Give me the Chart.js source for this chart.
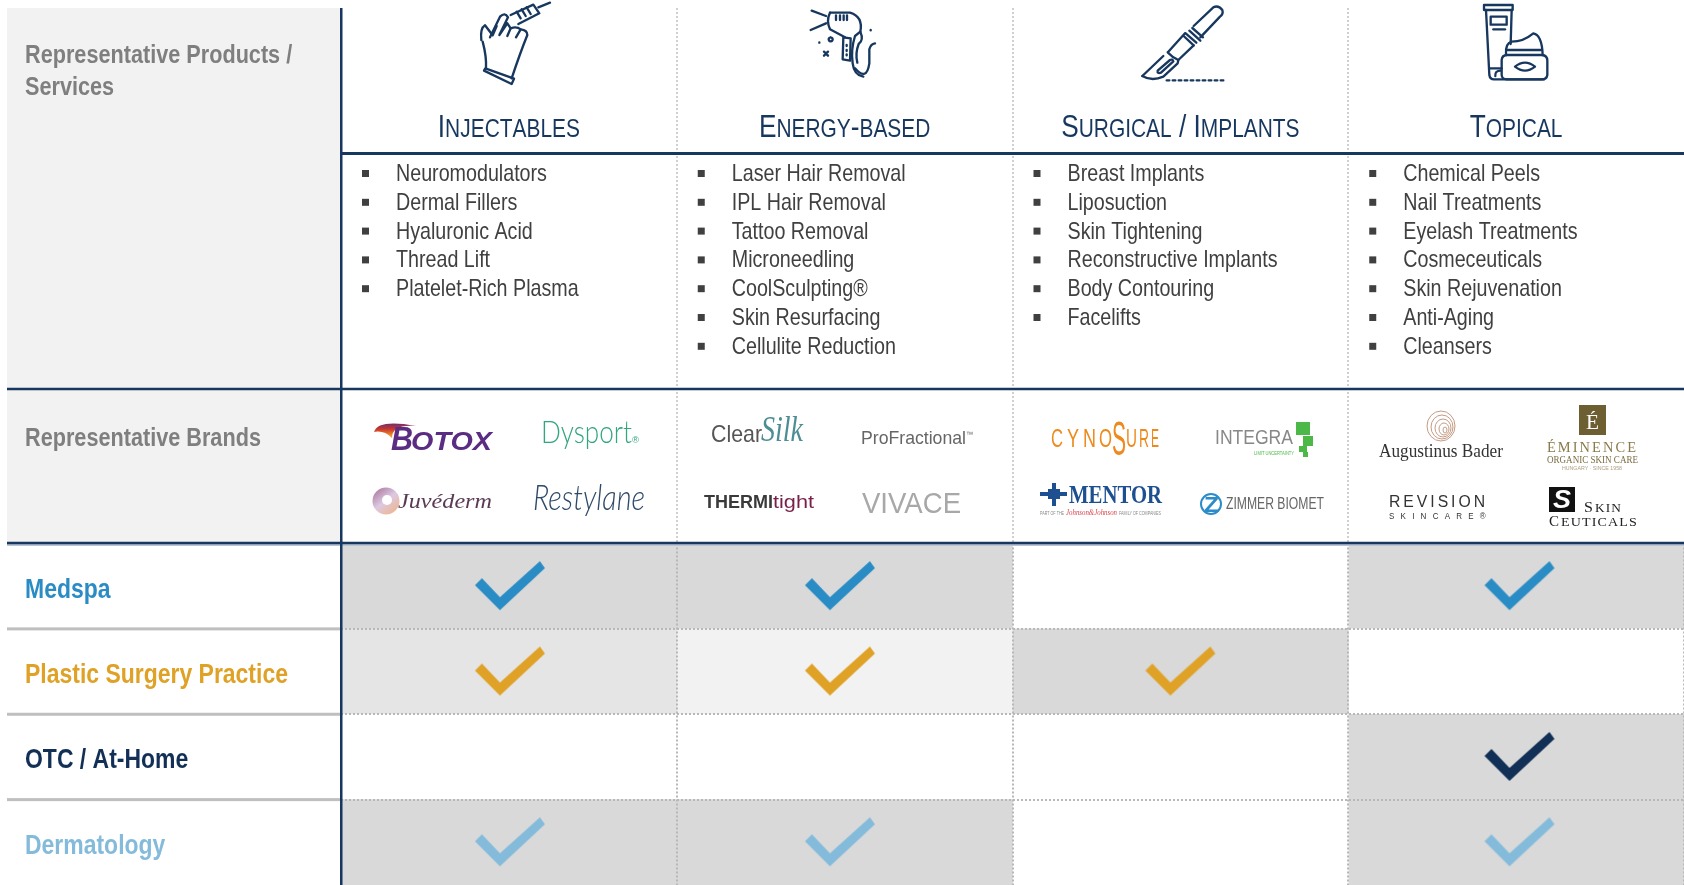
<!DOCTYPE html>
<html>
<head>
<meta charset="utf-8">
<title>Aesthetics market map</title>
<script src="https://cdn.jsdelivr.net/npm/chart.js@4"></script>
<style>
  html, body { margin: 0; padding: 0; background: #fff; }
  canvas { display: block; }
</style>
</head>
<body>
<canvas id="marketChart" width="1684" height="885"></canvas>
<script>
const columns = ['Injectables', 'Energy-based', 'Surgical / Implants', 'Topical'];
const rows = ['Medspa', 'Plastic Surgery Practice', 'OTC / At-Home', 'Dermatology'];

// 1 = check mark in that column
const medspaChecks = [1, 1, 0, 1];
const plasticChecks = [1, 1, 1, 0];
const otcChecks = [0, 0, 0, 1];
const dermChecks = [1, 1, 0, 1];
const rowChecks = [medspaChecks, plasticChecks, otcChecks, dermChecks];

// where the check sits along the column axis (read off the picture, not quite centred)
const checkPositions = [0.503, 1.486, 2.5, 3.51];

const sideHeadings = ['Representative Products /', 'Services', 'Representative Brands'];

const injectables = ['Neuromodulators', 'Dermal Fillers', 'Hyaluronic Acid', 'Thread Lift', 'Platelet-Rich Plasma'];
const energyBased = ['Laser Hair Removal', 'IPL Hair Removal', 'Tattoo Removal', 'Microneedling', 'CoolSculpting®', 'Skin Resurfacing', 'Cellulite Reduction'];
const surgical = ['Breast Implants', 'Liposuction', 'Skin Tightening', 'Reconstructive Implants', 'Body Contouring', 'Facelifts'];
const topical = ['Chemical Peels', 'Nail Treatments', 'Eyelash Treatments', 'Cosmeceuticals', 'Skin Rejuvenation', 'Anti-Aging', 'Cleansers'];
const productLists = [injectables, energyBased, surgical, topical];

const NAVY = '#17375e';
const SANS = "'Liberation Sans', sans-serif";
const SERIF = "'Liberation Serif', serif";

const rowColors = ['#2a8cc4', '#dfa126', '#122f56', '#84bbdb'];
const cellFills = [
    ['#d9d9d9', '#d9d9d9', '#ffffff', '#d9d9d9'],
    ['#e5e5e5', '#f2f2f2', '#d9d9d9', '#ffffff'],
    ['#ffffff', '#ffffff', '#ffffff', '#d9d9d9'],
    ['#d9d9d9', '#d9d9d9', '#ffffff', '#d9d9d9']
];

function checkImage(color) {
    const c = document.createElement('canvas');
    c.width = 72;
    c.height = 54;
    const g = c.getContext('2d');
    g.fillStyle = color;
    g.beginPath();
    g.moveTo(66, 2);
    g.lineTo(71, 9);
    g.lineTo(26, 51);
    g.lineTo(1, 26);
    g.lineTo(8, 19);
    g.lineTo(26, 38);
    g.closePath();
    g.fill();
    return c;
}

const cellDatasets = columns.map((name, col) => ({
    type: 'bar',
    label: name,
    data: rows.map(() => [col, col + 1]),
    backgroundColor: rows.map((r, i) => cellFills[i][col]),
    borderWidth: 0,
    barPercentage: 1,
    categoryPercentage: 1,
    grouped: false,
    order: 2
}));

const checkDatasets = rows.map((name, r) => ({
    type: 'line',
    label: name + ' check',
    data: rowChecks[r].map((v, col) => (v ? { x: checkPositions[col], y: name } : null)).filter(Boolean),
    showLine: false,
    pointStyle: checkImage(rowColors[r]),
    pointRadius: 1,
    clip: false,
    order: 1
}));

// the original type is Arial Narrow, which isn't installed: squeeze Liberation Sans horizontally
function narrowText(ctx, str, x, y, font, color, sx, align) {
    ctx.save();
    ctx.font = font;
    ctx.fillStyle = color;
    ctx.textAlign = align || 'left';
    ctx.translate(x, y);
    ctx.scale(sx, 1);
    ctx.fillText(str, 0, 0);
    ctx.restore();
}

function smallCaps(ctx, str, mid, y, color) {
    const big = "400 32px " + SANS;
    const small = "400 25.5px " + SANS;
    const sx = 0.82;
    const parts = str.split('').map(ch => {
        const lower = ch !== ch.toUpperCase();
        return { ch: ch.toUpperCase(), font: lower ? small : big };
    });
    ctx.save();
    ctx.textAlign = 'left';
    let total = 0;
    parts.forEach(p => {
        ctx.font = p.font;
        p.w = ctx.measureText(p.ch).width * sx;
        total += p.w;
    });
    let x = mid - total / 2;
    parts.forEach(p => {
        narrowText(ctx, p.ch, x, y, p.font, color, sx);
        x += p.w;
    });
    ctx.restore();
}

function fitText(ctx, str, x, y, width, font, color) {
    ctx.font = font;
    ctx.fillStyle = color;
    ctx.textAlign = 'left';
    ctx.textBaseline = 'alphabetic';
    const w = ctx.measureText(str).width;
    ctx.save();
    ctx.translate(x, y);
    ctx.scale(width / w, 1);
    ctx.fillText(str, 0, 0);
    ctx.restore();
}

function dotted(ctx, x1, y1, x2, y2, color) {
    ctx.save();
    ctx.strokeStyle = color;
    ctx.lineWidth = 2;
    ctx.setLineDash([2, 2]);
    ctx.beginPath();
    ctx.moveTo(x1, y1);
    ctx.lineTo(x2, y2);
    ctx.stroke();
    ctx.restore();
}

function rule(ctx, x1, y, x2, color, w) {
    ctx.fillStyle = color;
    ctx.fillRect(x1, y - w / 2, x2 - x1, w);
}

// icons are traced at 3x from the reference, offsets are the top-left of each icon
function strokeIcon(ctx, ox, oy, paths) {
    ctx.save();
    ctx.translate(ox, oy);
    ctx.scale(1 / 3, 1 / 3);
    ctx.strokeStyle = NAVY;
    ctx.lineWidth = 7;
    ctx.lineJoin = 'round';
    ctx.lineCap = 'round';
    paths.forEach(p => ctx.stroke(new Path2D(p)));
    ctx.restore();
}

const iconPaths = [
    [
        'M205,22 L240,8', 'M122,45 L190,14 L208,40 L145,72',
        'M140,35 L152,55 M155,28 L167,48 M170,22 L182,42',
        'M38,125 Q50,170 48,205', 'M42,212 L125,252 L132,236 L46,205 Z',
        'M125,235 Q150,160 172,105 Q172,90 152,88 L138,112',
        'M152,88 Q140,78 122,85 L112,108', 'M60,112 L90,50 Q105,35 114,52 L88,105 L112,70 L122,85',
        'M34,120 Q30,85 45,76 L68,106 L80,78'
    ],
    [
        'M35,32 L78,48', 'M32,90 L78,70', 'M90,38 L150,38 Q190,50 181,95 L165,108 Q152,150 158,190 Q162,225 190,230',
        'M90,38 Q78,62 90,88 L135,112', 'M130,112 L128,178 L150,182 L152,115 Z',
        'M108,46 L108,60 M120,46 L120,60 M131,46 L131,60 M141,46 L141,60',
        'M165,205 Q200,245 208,190 L208,148 Q212,132 225,130', 'M181,95 Q192,120 176,132 Q165,160 172,188',
        'M92,112 a6,6 0 1,0 0.1,0', 'M140,135 L140,138 M140,150 L140,153 M140,163 L140,166',
        'M72,155 L84,167 M84,155 L72,167', 'M58,127 L58,128', 'M212,90 L212,91'
    ],
    [
        'M176,78 L235,22 Q250,14 262,30 Q266,42 255,50 L196,112', 'M152,100 L184,128 M163,92 L196,122 M172,84 L204,112 M146,108 L176,136',
        'M100,155 L150,100', 'M176,136 L130,180', 'M98,157 L115,172 L126,178', 'M22,228 L85,168',
        'M22,228 Q50,245 85,230 L128,190 L130,180', 'M68,212 L105,180 Q112,176 115,184 L78,218 Q66,222 68,212',
        'M95,241 L103,241 M113,241 L121,241 M131,241 L139,241 M149,241 L157,241 M167,241 L175,241 M185,241 L193,241 M203,241 L211,241 M221,241 L229,241 M239,241 L247,241 M257,241 L265,241'
    ],
    [
        'M42,15 L128,15 L128,30 L42,30 Z', 'M48,30 L58,225 Q60,238 72,238 L222,238',
        'M125,30 L122,132', 'M62,50 L110,50 L110,74 L62,74 Z', 'M70,88 L105,88', 'M58,205 L95,205', 'M76,228 Q74,212 92,212',
        'M108,165 Q105,130 125,125 Q160,125 190,100 Q216,105 218,165', 'M112,150 L214,150',
        'M95,180 Q96,165 112,165 L216,165 Q232,166 232,182 L232,225 Q230,238 216,238 L110,238 Q96,238 95,225 Z',
        'M135,200 Q150,188 165,188 Q180,188 195,200 Q180,212 165,212 Q150,212 135,200 Z'
    ]
];

// logos are approximated with type and a few shapes
const logoPainters = {
    Botox(ctx) {
        const grad = ctx.createLinearGradient(374, 422, 374, 436);
        grad.addColorStop(0, '#5a2d82');
        grad.addColorStop(0.5, '#c9352d');
        grad.addColorStop(1, '#f09a2c');
        ctx.fillStyle = grad;
        ctx.beginPath();
        ctx.moveTo(374, 432);
        ctx.quadraticCurveTo(378, 419, 416, 426);
        ctx.quadraticCurveTo(392, 424, 392, 438);
        ctx.quadraticCurveTo(384, 430, 374, 432);
        ctx.fill();
        fitText(ctx, 'B', 391, 450, 22, "italic bold 33px " + SANS, '#5a2d82');
        fitText(ctx, 'OTOX', 411, 450, 81, "italic bold 25px " + SANS, '#5a2d82');
    },
    Dysport(ctx) {
        fitText(ctx, 'Dysport', 541, 443, 91, "300 31px Lato, " + SANS, '#32a67d');
        fitText(ctx, '®', 632, 443, 7, "9px " + SANS, '#32a67d');
    },
    ClearSilk(ctx) {
        fitText(ctx, 'Clear', 711, 442, 51, "24px " + SANS, '#555555');
        fitText(ctx, 'Silk', 761, 441, 42, "italic 36px " + SERIF, '#4d8d94');
    },
    ProFractional(ctx) {
        fitText(ctx, 'ProFractional', 861, 444, 105, "19px " + SANS, '#666666');
        fitText(ctx, '™', 966, 437, 7, "8px " + SANS, '#666666');
    },
    Juvederm(ctx) {
        const grad = ctx.createLinearGradient(374, 485, 398, 516);
        grad.addColorStop(0, '#a0668f');
        grad.addColorStop(0.5, '#ddc9e2');
        grad.addColorStop(1, '#f2b079');
        ctx.fillStyle = grad;
        ctx.beginPath();
        ctx.arc(386, 501, 13.5, 0, Math.PI * 2);
        ctx.fill();
        ctx.fillStyle = '#fff';
        ctx.beginPath();
        ctx.arc(387, 500, 5, 0, Math.PI * 2);
        ctx.fill();
        fitText(ctx, 'Juvéderm', 398, 508, 94, "italic 20px " + SERIF, '#5a3a55');
    },
    Restylane(ctx) {
        fitText(ctx, 'Restylane', 533, 510, 112, "italic 300 36px Lato, " + SERIF, '#2e4a68');
    },
    Thermi(ctx) {
        fitText(ctx, 'THERMI', 704, 508, 69, "bold 19px " + SANS, '#3a3a3a');
        fitText(ctx, 'tight', 773, 508, 41, "19px " + SANS, '#7a1f4a');
    },
    Vivace(ctx) {
        fitText(ctx, 'VIVACE', 862, 513, 99, "29px " + SANS, '#a8a8a8');
    },
    Cynosure(ctx) {
        fitText(ctx, 'C', 1051, 447, 12, "25px " + SANS, '#ee8a1d');
        fitText(ctx, 'Y', 1067, 447, 12, "25px " + SANS, '#ee8a1d');
        fitText(ctx, 'N', 1083, 447, 13, "25px " + SANS, '#ee8a1d');
        fitText(ctx, 'O', 1099, 447, 13, "25px " + SANS, '#ee8a1d');
        fitText(ctx, 'S', 1112, 455, 14, "49px " + SANS, '#ee8a1d');
        fitText(ctx, 'U', 1126, 447, 11, "25px " + SANS, '#ee8a1d');
        fitText(ctx, 'R', 1139, 447, 10, "25px " + SANS, '#ee8a1d');
        fitText(ctx, 'E', 1151, 447, 8, "25px " + SANS, '#ee8a1d');
    },
    Integra(ctx) {
        fitText(ctx, 'INTEGRA', 1215, 444, 78, "21px " + SANS, '#888888');
        ctx.fillStyle = '#4cb848';
        ctx.fillRect(1296, 422, 14, 13);
        ctx.fillRect(1303, 436, 10, 10);
        ctx.fillRect(1299, 446, 8, 6);
        ctx.fillRect(1303, 452, 5, 5);
        fitText(ctx, 'LIMIT UNCERTAINTY', 1254, 455, 40, "5px " + SANS, '#4cb848');
    },
    Mentor(ctx) {
        ctx.fillStyle = '#1d4f91';
        ctx.fillRect(1052, 483, 4, 23);
        ctx.fillRect(1040, 492, 27, 4);
        ctx.fillRect(1048, 489, 12, 10);
        fitText(ctx, 'MENTOR', 1069, 503, 93, "bold 25px " + SERIF, '#1d4f91');
        fitText(ctx, 'PART OF THE', 1040, 515, 24, "5px " + SANS, '#888888');
        fitText(ctx, 'Johnson&Johnson', 1066, 515, 51, "italic 8px " + SERIF, '#d8434e');
        fitText(ctx, 'FAMILY OF COMPANIES', 1119, 515, 42, "5px " + SANS, '#888888');
    },
    Zimmer(ctx) {
        ctx.strokeStyle = '#2a8cc8';
        ctx.lineWidth = 2;
        ctx.beginPath();
        ctx.arc(1211, 504, 10, 0, Math.PI * 2);
        ctx.stroke();
        fitText(ctx, 'Z', 1204, 512, 15, "bold 22px " + SANS, '#2a8cc8');
        fitText(ctx, 'ZIMMER BIOMET', 1226, 509, 98, "17px " + SANS, '#666666');
    },
    Bader(ctx) {
        ctx.strokeStyle = '#c49a82';
        ctx.lineWidth = 1;
        [14, 11, 8, 5, 2].forEach((r, i) => {
            ctx.beginPath();
            ctx.ellipse(1441 + i, 426 + i, r, r + 1, 0, 0, Math.PI * 2);
            ctx.stroke();
        });
        fitText(ctx, 'Augustinus Bader', 1379, 457, 124, "18px " + SERIF, '#333333');
    },
    Eminence(ctx) {
        ctx.fillStyle = '#6e5f33';
        ctx.fillRect(1579, 405, 27, 30);
        fitText(ctx, 'É', 1586, 429, 13, "22px " + SERIF, '#ffffff');
        ctx.letterSpacing = '2px';
        fitText(ctx, 'ÉMINENCE', 1547, 452, 91, "14px " + SERIF, '#8a7a4a');
        ctx.letterSpacing = '0px';
        fitText(ctx, 'ORGANIC SKIN CARE', 1547, 463, 91, "10px " + SERIF, '#7a6d42');
        fitText(ctx, 'HUNGARY · SINCE 1958', 1562, 470, 60, "5px " + SANS, '#a89e80');
    },
    Revision(ctx) {
        ctx.letterSpacing = '3px';
        fitText(ctx, 'REVISION', 1389, 507, 99, "16px " + SANS, '#333333');
        ctx.letterSpacing = '7px';
        fitText(ctx, 'SKINCARE®', 1389, 519, 103, "9px " + SANS, '#333333');
        ctx.letterSpacing = '0px';
    },
    SkinCeuticals(ctx) {
        ctx.fillStyle = '#111';
        ctx.fillRect(1549, 487, 26, 25);
        fitText(ctx, 'S', 1553, 508, 18, "bold italic 26px " + SANS, '#ffffff');
        ctx.letterSpacing = '1px';
        fitText(ctx, 'S', 1584, 512, 10, "15px " + SERIF, '#222222');
        fitText(ctx, 'KIN', 1595, 512, 27, "12px " + SERIF, '#222222');
        fitText(ctx, 'C', 1549, 526, 11, "15px " + SERIF, '#222222');
        fitText(ctx, 'EUTICALS', 1561, 526, 77, "12px " + SERIF, '#222222');
        ctx.letterSpacing = '0px';
    }
};

const brandLogos = [
    ['Botox', 'Dysport', 'Juvederm', 'Restylane'],
    ['ClearSilk', 'ProFractional', 'Thermi', 'Vivace'],
    ['Cynosure', 'Integra', 'Mentor', 'Zimmer'],
    ['Bader', 'Eminence', 'Revision', 'SkinCeuticals']
];

const tablePlugin = {
    id: 'tablePlugin',
    beforeDraw(chart) {
        const ctx = chart.ctx;
        const area = chart.chartArea;
        ctx.save();
        ctx.fillStyle = '#f2f2f2';
        ctx.fillRect(7, 8, area.left - 7, area.top - 8);
        ctx.restore();
    },
    afterDraw(chart) {
        const ctx = chart.ctx;
        const area = chart.chartArea;
        const xs = chart.scales.x;
        const ys = chart.scales.y;
        ctx.save();

        // column dividers above the matrix
        for (let i = 1; i < columns.length; i++) {
            const x = Math.round(xs.getPixelForValue(i));
            dotted(ctx, x, 8, x, area.top, '#d0d0d0');
        }

        // rules
        rule(ctx, area.left, 153.5, area.right, NAVY, 3);
        rule(ctx, 7, 389, area.right, NAVY, 2.5);
        rule(ctx, 7, 544, area.right, '#b7c4d4', 4);
        rule(ctx, 7, 543, area.right, NAVY, 2.5);
        const band = (area.bottom - area.top) / rows.length;
        for (let i = 1; i < rows.length; i++) {
            rule(ctx, 7, area.top + band * i, area.left, '#bfbfbf', 3);
        }
        ctx.fillStyle = NAVY;
        ctx.fillRect(area.left - 1, 8, 2.5, area.bottom - 8);

        // side headings
        ctx.textBaseline = 'alphabetic';
        const headFont = "bold 26px " + SANS;
        narrowText(ctx, sideHeadings[0], 25, 63, headFont, '#7f7f7f', 0.833);
        narrowText(ctx, sideHeadings[1], 25, 95, headFont, '#7f7f7f', 0.833);
        narrowText(ctx, sideHeadings[2], 25, 446, headFont, '#7f7f7f', 0.833);

        // row labels sit on the y scale's category positions
        rows.forEach((name, i) => {
            narrowText(ctx, name, 25, ys.getPixelForValue(i) + 11.5, "bold 27.5px " + SANS, rowColors[i], 0.835);
        });

        columns.forEach((name, c) => {
            const left = xs.getPixelForValue(c);
            const mid = xs.getPixelForValue(c + 0.5);

            strokeIcon(ctx, [470, 800, 1135, 1470][c], 0, iconPaths[c]);
            smallCaps(ctx, name, mid, 137, NAVY);

            productLists[c].forEach((item, i) => {
                const y = 181 + i * 28.8;
                ctx.fillStyle = '#404040';
                ctx.fillRect(left + 21, y - 11, 7, 7);
                narrowText(ctx, item, left + 55, y, "24px " + SANS, '#404040', 0.82);
            });

            brandLogos[c].forEach(logo => {
                ctx.save();
                logoPainters[logo](ctx);
                ctx.restore();
            });
        });
        ctx.restore();
    }
};

const chart = new Chart(document.getElementById('marketChart').getContext('2d'), {
    data: {
        labels: rows,
        datasets: [...cellDatasets, ...checkDatasets]
    },
    options: {
        responsive: false,
        animation: false,
        indexAxis: 'y',
        layout: { autoPadding: false, padding: { left: 25, top: 543.5, right: 0, bottom: 0 } },
        plugins: { legend: { display: false }, tooltip: { enabled: false }, title: { display: false } },
        scales: {
            x: {
                type: 'linear',
                min: 0,
                max: columns.length,
                afterFit(scale) { scale.height = 0; },
                border: { display: false, dash: [2, 2] },
                ticks: { display: false, stepSize: 1 },
                grid: {
                    z: 1,
                    drawTicks: false,
                    lineWidth: 2,
                    color: '#b8b8b8'
                }
            },
            y: {
                type: 'category',
                labels: rows,
                offset: true,
                afterFit(scale) { scale.width = 316; },
                border: { display: false, dash: [2, 2] },
                ticks: { display: false },
                grid: {
                    offset: true,
                    z: 1,
                    drawTicks: false,
                    lineWidth: 2,
                    // the closing line past the last row has no tick, so no index
                    color: ctx => (ctx.index === undefined ? 'transparent' : '#b8b8b8')
                }
            }
        }
    },
    plugins: [tablePlugin]
});
</script>
</body>
</html>
